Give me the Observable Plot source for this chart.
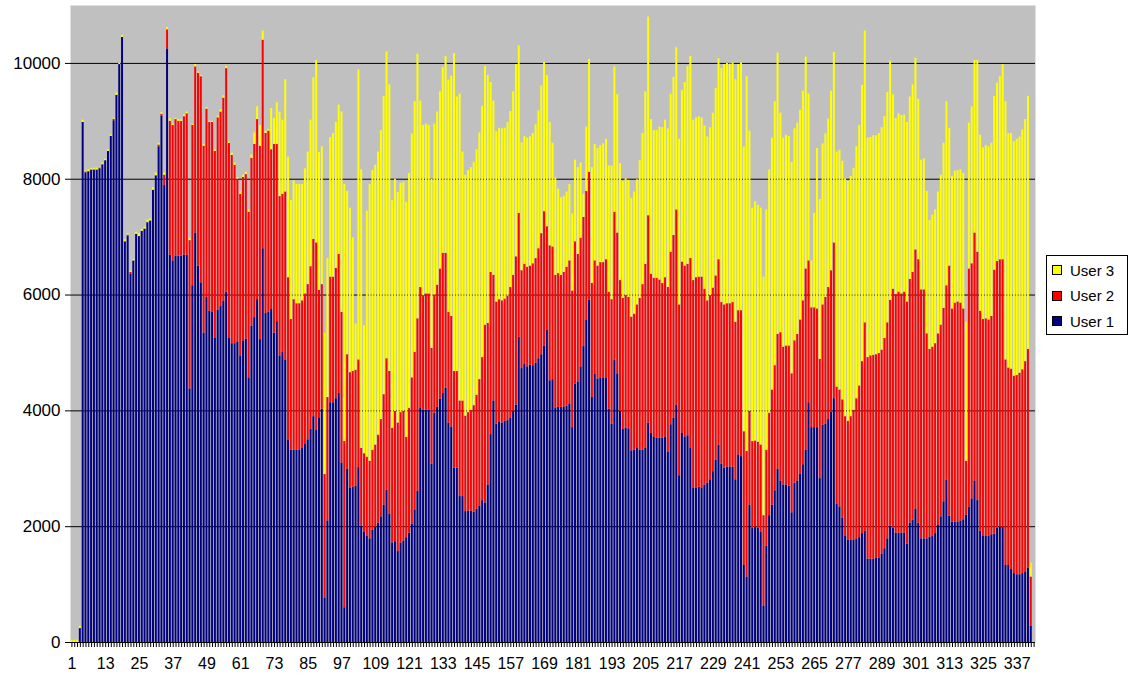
<!DOCTYPE html>
<html><head><meta charset="utf-8">
<script src="https://cdn.jsdelivr.net/npm/d3@7"></script>
<script src="https://cdn.jsdelivr.net/npm/@observablehq/plot@0.6"></script>
<style>
body{margin:0;background:#fff;font-family:"Liberation Sans",Arial,sans-serif;}
#wrap{position:relative;width:1134px;height:677px;}
#wrap svg{display:block;}
#legend{position:absolute;left:1046px;top:255px;width:82px;height:80px;border:1px solid #000;background:#fff;box-sizing:border-box;font-size:15px;color:#000;}
.item{position:absolute;left:5px;height:18px;display:flex;align-items:center;white-space:nowrap;}
.sw{width:8px;height:8px;border:1px solid #000;margin-right:8px;}
</style></head><body><div id="wrap"><div id="legend"></div></div>
<script>
const seriesNames = ["User 1", "User 2", "User 3"];
const seriesColors = ["#000080", "#FF0000", "#FFFF00"];
const legendOrder = ["User 3", "User 2", "User 1"];
const categories = d3.range(1, 344);
const tickLabels = [1,13,25,37,49,61,73,85,97,109,121,133,145,157,169,181,193,205,217,229,241,253,265,277,289,301,313,325,337];
const yTicks = [0, 2000, 4000, 6000, 8000, 10000];

const user1 = [
0,0,0,240,8980,8110,8130,8160,8160,8160,8180,8250,8320,8480,8740,9010,9450,9980,10450,6920,
7010,6360,6590,7050,7010,7100,7140,7250,7280,7810,8060,8560,9090,7890,10250,6690,6590,6670,6670,6670,
6690,6690,4380,6160,7070,6500,6210,5340,5960,5720,5700,5250,5740,5800,5890,6050,5250,5160,5160,5190,
4950,5210,5240,4570,5460,5610,5920,5230,6800,5680,5700,5750,5340,5540,4950,5010,4880,3500,3320,3320,
3320,3320,3350,3430,3500,3680,3900,3660,3880,4030,770,2100,4140,4140,4210,4300,3100,600,2990,2670,
2680,2700,3020,2010,1900,1840,1790,1940,1990,2060,2170,2370,2630,2220,1720,1740,1570,1720,1750,1810,
1890,2040,2290,2610,4050,4010,4010,4010,3080,3960,4060,4200,4300,4390,3790,3720,3010,3010,2520,2520,
2260,2270,2270,2250,2300,2350,2450,2410,2720,3590,4170,3770,3810,3790,3820,3830,3870,3990,4100,5270,
4730,4810,4760,4790,4780,4820,4900,4970,5120,5390,4520,4540,4040,4060,4060,4060,4080,4120,3710,4460,
4490,4760,5110,5570,5910,4230,4630,4550,4570,4570,4570,4030,3770,4870,4640,3990,3680,3700,3690,3310,
3320,3350,3320,3320,3350,3790,3610,3540,3530,3530,3530,3550,3290,3760,3870,4100,2880,3610,3550,3570,
3360,2660,2670,2680,2670,2720,2750,2810,2950,3150,3410,3080,3010,3030,3030,3030,2810,3240,3210,1330,
1130,2370,1970,1990,1970,1900,630,1660,2190,2370,2620,2990,2790,2720,2720,2700,2240,2750,2790,2910,
3070,3320,4140,3710,3710,3710,2830,3750,3770,3850,3980,4210,2390,2340,2150,1840,1770,1770,1770,1790,
1810,1880,1920,1440,1440,1440,1460,1460,1520,1620,1790,2010,1970,1890,1890,1890,1890,1700,2060,2110,
2300,2060,1790,1790,1790,1820,1830,1880,2020,2170,2430,2800,2180,2080,2080,2080,2100,2120,2200,2340,
2480,2790,2450,1920,1830,1830,1830,1860,1870,1970,1990,1990,1330,1330,1260,1190,1170,1170,1190,1220,
1280,280
];
const user2 = [
0,0,0,0,0,15,0,0,0,0,15,0,0,0,0,25,0,0,0,0,
25,30,0,0,0,0,0,0,0,0,0,30,30,180,330,2310,2340,2360,2330,2330,
2390,2440,2560,2770,2870,3330,3560,3230,3250,3260,3280,3230,3320,3360,3510,3860,3370,3250,3080,2810,
2790,2820,2840,2860,2900,2990,3110,3340,3600,3110,3130,2760,3260,3060,2750,2730,2900,2800,2260,2600,
2530,2530,2550,2590,2680,2810,3060,3240,2200,2150,2130,2130,2170,2170,2250,2400,2600,2870,1980,1990,
2000,2000,1860,1340,1360,1360,1340,1380,1420,1520,1680,1910,2270,2460,1980,2250,2220,2250,2240,1730,
2150,2530,2720,2980,2080,1980,2010,2010,2000,2040,2110,2250,2420,2330,1910,1910,1670,1670,1650,1650,
1650,1700,1740,1840,1970,2190,2470,3070,2790,2800,2170,2110,2110,2110,2110,2150,2260,2350,2560,2140,
1690,1720,1720,1710,1760,1810,1900,2090,2320,1790,2330,2290,2300,2310,2280,2330,2400,2470,2360,2460,
2210,2220,2230,2220,2210,1970,1960,1950,1990,1990,2040,2020,2150,2560,2430,2260,2260,2290,2270,2310,
2350,2480,2620,2860,3180,3580,2750,2750,2760,2730,2670,2750,2840,2980,3160,3370,2950,2960,2950,2960,
3270,3590,3630,3630,3640,3380,3150,3180,3170,3180,3200,2790,2820,2820,2820,2840,2720,2490,2520,2310,
2170,1620,1500,1490,1490,1510,1560,1660,1770,1990,2160,2330,2560,2380,2400,2420,2400,2460,2530,2660,
2830,3130,2450,2070,2070,2050,2060,2080,2190,2280,2440,2690,2020,2020,2040,2060,2050,2130,2240,2420,
2620,2970,3600,3480,3510,3520,3510,3530,3530,3630,3730,3900,4130,4120,4160,4130,4160,4180,4210,4280,
4480,4550,4300,4300,3540,3240,3270,3280,3310,3310,3340,3360,4320,3680,3780,3800,3760,3640,930,4110,
4060,4280,4290,3800,3750,3760,3740,3770,4560,4610,4620,4620,3550,3410,3460,3410,3440,3480,3520,3630,
3780,850
];
const user3 = [
40,40,40,40,40,20,30,25,30,30,15,30,25,30,25,20,40,25,35,35,
25,25,25,35,50,35,35,45,35,45,45,30,30,40,40,45,20,20,30,30,
30,30,40,20,40,20,20,30,30,20,20,30,30,40,40,40,20,40,40,30,
40,40,40,40,60,200,220,360,160,40,30,710,450,720,1460,1280,1940,2080,2050,2050,
2060,2060,2010,2160,2290,2530,2790,3150,2380,2380,2440,2400,2410,2480,2520,2580,3460,4440,2820,2840,
2310,800,5010,4810,2210,4250,4780,4830,4830,4890,4990,5150,5300,4950,3930,4010,3980,3960,3960,4060,
4060,4210,4330,4570,3220,2940,2930,2910,2920,2950,2990,3060,3210,3400,4010,4150,5490,4740,5300,4300,
4160,4180,4190,4200,4240,4260,4340,4470,4280,3280,3010,2940,2960,2970,2950,3000,3040,3170,3320,2890,
2210,2210,2230,2230,2250,2310,2380,2550,2580,2610,2130,1790,1680,1460,1340,1310,1300,1320,1330,1410,
1500,1300,400,1110,1950,2000,2010,2030,2020,2050,2080,2180,2310,2510,2390,2020,2020,2020,2020,2050,
2110,2160,2380,2610,2980,3430,2670,2550,2550,2640,2690,2720,2740,2730,2730,2800,2860,2960,3170,3420,
3490,2770,2760,2770,2750,2820,2830,2900,3020,3240,3470,4040,4150,4150,4140,4140,4190,4250,4280,4920,
6470,4840,4030,4130,4090,4090,4120,4150,4200,4350,4560,4860,3790,3610,3640,3620,3650,3660,3650,3620,
3620,3660,2880,810,1630,2770,2760,2780,2820,2910,3100,3290,4060,4140,4120,4110,4140,4150,4180,4350,
4500,4770,5040,3790,3770,3790,3780,3800,3840,3830,3980,4130,3360,3040,3080,3080,3060,3100,3150,3240,
3310,2770,2240,2260,2460,2230,2280,2310,2450,2590,2850,3180,2380,2290,2280,2270,2300,2340,2400,2520,
2710,2980,3310,3040,2960,2990,2990,2990,3000,3080,3160,3370,4460,4050,4070,4050,4080,4080,4140,4180,
4370,240
];

const seriesValues = [user1, user2, user3];
const rows = [];
user1.forEach((_, i) => {
  seriesNames.forEach((s, k) => rows.push({cat: categories[i], series: s, value: seriesValues[k][i]}));
});

const chart = Plot.plot({
  width: 1134, height: 677,
  marginLeft: 70, marginRight: 99, marginTop: 5, marginBottom: 35,
  style: {fontFamily: "Liberation Sans, Arial, sans-serif", fontSize: "16px", color: "#000", background: "transparent"},
  x: {type: "band", domain: categories, paddingInner: 0.3, paddingOuter: 0.15},
  y: {domain: [0, 11000]},
  color: {domain: seriesNames, range: seriesColors},
  marks: [
    Plot.frame({fill: "#C0C0C0", stroke: "none"}),
    Plot.gridY(yTicks, {stroke: "#000", strokeOpacity: 1, strokeWidth: 1}),
    Plot.barY(rows, {x: "cat", y: "value", fill: "series"}),
    Plot.axisY({ticks: yTicks, tickSize: 5, tickPadding: 5, line: true, label: null, fontSize: 17, tickFormat: d => String(d), stroke: "#000"}),
    Plot.axisX({ticks: categories, tickSize: 5, tickPadding: 10, line: true, label: null, stroke: "#000",
      tickFormat: d => tickLabels.includes(d) ? String(d) : ""})
  ]
});
const wrap = document.getElementById("wrap");
wrap.insertBefore(chart, wrap.firstChild);

const legend = document.getElementById("legend");
legendOrder.forEach((name, i) => {
  const item = document.createElement("div");
  item.className = "item";
  item.style.top = (5 + i * 25.5) + "px";
  const sw = document.createElement("span");
  sw.className = "sw";
  sw.style.background = seriesColors[seriesNames.indexOf(name)];
  const t = document.createElement("span");
  t.textContent = name;
  item.appendChild(sw); item.appendChild(t);
  legend.appendChild(item);
});
</script></body></html>
